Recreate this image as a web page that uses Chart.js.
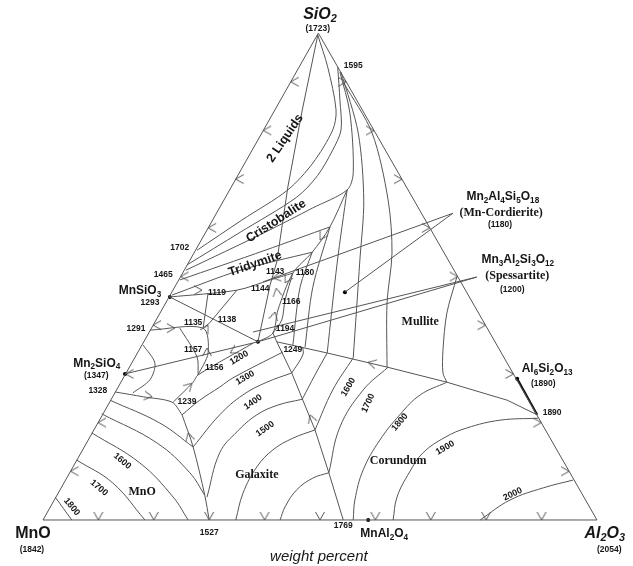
<!DOCTYPE html>
<html>
<head>
<meta charset="utf-8">
<title>MnO-Al2O3-SiO2</title>
<script src="https://cdn.jsdelivr.net/npm/chart.js@4"></script>
<style>
  html, body { margin: 0; padding: 0; background: #fff; }
  canvas { display: block; }
</style>
</head>
<body>
<canvas id="ternary" width="633" height="566"></canvas>
<script>
// every point is [position along the base in %, SiO2 wt%]  (Al2O3 = x - SiO2/2)
const triangle = [[0,0],[100,0],[49.7,100],[0,0]];
const tickPercents = [10,20,30,40,50,60,70,80,90];

// straight tie lines and leaders
const apexLine = [[49.6,99.6],[46.8,84.2],[44.2,68.4],[42.2,53],[41,48.3],[38.8,36.6]];
const longBoundary = [[42.2,36.6],[51.3,34.3],[62.1,31.4],[72.9,28.3],[83.8,24.6],[89.2,21.6]];
const downBoundary = [[42.2,36.6],[44.9,30.2],[49.1,18.5],[51.6,9.7],[54.2,0]];
const silicateJoin = [[22.9,45.8],[38.8,36.6]];
const leaderOlivine = [[14.8,30],[38.8,36.6]];
const leaderSpess1 = [[38.8,36.6],[78.3,49.9]];
const leaderSpess2 = [[37.9,38.6],[78.3,49.9]];
const leaderCord1 = [[74,63],[39.7,48.9]];
const leaderCord2 = [[74,63],[54.5,46.8]];
const shortA = [[29.8,46.6],[28.9,39.4]];
const shortB = [[35,47.2],[30.1,40.5],[28.9,39.4]];
const shortC = [[41.5,38.4],[42.2,36.6]];
const straightLines = [apexLine,longBoundary,downBoundary,silicateJoin,leaderOlivine,leaderSpess1,leaderSpess2,leaderCord1,leaderCord2,shortA,shortB,shortC];

// curved boundaries
const curveB = [[49.6,99.6],[51.4,93],[52.9,84.2],[52.3,80.1],[48.7,73.3],[44.2,67.8],[35.9,61.6],[27.8,55.4]];
const curveC = [[53.2,93],[53.6,86.2],[53.8,80.1],[52.3,76],[49.6,70.8],[45.8,66.3],[35.6,59.1],[26,52.4]];
const curveD = [[53.6,92],[55.4,83.6],[56,71.3],[54.9,67.8],[48.7,64.1],[40.1,59.1],[25.8,51.3]];
const curveE = [[53.8,92],[56.9,79.5],[57.9,65.7],[57.2,53.4],[56,33.3]];
const curveF = [[54.2,89.9],[59.4,79.5],[62.3,65.7],[63,54.8],[62.1,44.6],[62.1,31.4]];
const mulliteSide = [[74.7,49.9],[72.9,42.5],[72.2,34.9],[72.2,30.2],[72.9,28.3]];
const ridge1 = [[54.9,67.8],[51.8,60.2],[48.6,55],[45.1,50.7],[42.4,43.1],[41.5,38.4],[38.8,36.6]];
const ridge2 = [[45.1,50.7],[43.7,45.2],[43.1,41.1],[41.5,38.4]];
const ridge3 = [[48.6,55],[46.4,47.8],[45.1,35.9]];
const ridge4 = [[51.8,60.2],[48.7,47.8],[47.3,35.5]];
const ridge5 = [[54.9,67.8],[53.1,52.8],[51.3,34.3]];
const tieUpper = [[51.8,60.2],[40.1,55.4],[24.7,49.3]];
const tieLower = [[48.6,55],[35.6,51.3],[23.3,46.2]];
const fromRhodonite = [[22.9,45.8],[35,47.2],[41,49.3],[45.1,50.7]];
const pocketA = [[19.3,39],[28.9,39.4],[29.8,34.3],[28,29.8]];
const pocketB = [[24.7,39.4],[27.8,33.5],[28,29.8]];
const line1200 = [[23.5,24.2],[27.1,28.3],[28,29.8],[37.9,36.3]];
const olivineLoop = [[18.1,35.9],[20.2,32.2],[19.3,28.8],[16.2,26.1]];
const galaxiteSide = [[25.1,21.6],[27.1,15],[29.2,5.1],[30,0]];
const mno1328 = [[13,26.3],[18.1,25.3],[23.3,24.2],[25.1,21.6]];
const curvedLines = [curveB,curveC,curveD,curveE,curveF,mulliteSide,ridge1,ridge2,ridge3,ridge4,ridge5,tieUpper,tieLower,fromRhodonite,pocketA,pocketB,line1200,olivineLoop,galaxiteSide,mno1328];

// isotherms
const iso1300 = [[25.1,21.6],[28.3,24.6],[31.9,27.3],[34.3,29.2],[43.3,34.5]];
const iso1400 = [[44.9,30.2],[40.4,28.3],[36.1,25.7],[31.9,21.6],[27.1,15]];
const iso1500 = [[46.8,24.8],[42.4,23.6],[38.6,21.6],[35,18.1],[31.9,13.8],[29.6,4.7]];
const iso1600g = [[49.1,18.5],[45.1,16.8],[41.5,14.4],[38.6,10.9],[36.1,5.5],[34.8,0]];
const iso1700g = [[51.6,9.7],[48.7,8.6],[45.8,6.2],[43.7,2.7],[42.8,0]];
const riseA = [[44.9,30.2],[46.9,33.9],[46.9,35.5]];
const riseB = [[46.8,24.8],[49.1,29.8],[51.3,34.3]];
const riseC = [[49.1,18.5],[52.3,26.7],[56,33.3]];
const riseD = [[51.6,9.7],[53.6,19.1],[57.8,26.7],[62.3,31.4]];
const iso1800 = [[56,0],[56.3,4.1],[57.8,10.3],[60.8,16.4],[64.4,21.6],[68.1,25.7],[72.9,28.3]];
const iso1900 = [[63.2,0],[63.9,4.7],[66.2,9.9],[68.6,13.8],[72.6,17],[76.5,18.9],[82.5,20.5],[89.4,20.9]];
const iso2000 = [[78.9,0],[84.3,4.1],[90.3,6.6],[95.7,8.2]];
const mno1800 = [[2.2,4.7],[5.2,0]];
const mno1700 = [[6.1,12.3],[12.6,7.6],[18.4,0]];
const mno1600 = [[8.8,17.9],[17.5,11.7],[23.5,4.7],[26.2,0]];
const mno1500 = [[10.6,21.8],[20.6,15.8],[26.5,9.7],[29.2,5.1]];
const mno1400 = [[12.1,24.6],[21.1,19.9],[27.1,15]];
const isotherms = [iso1300,iso1400,iso1500,iso1600g,iso1700g,riseA,riseB,riseC,riseD,iso1800,iso1900,iso2000,mno1800,mno1700,mno1600,mno1500,mno1400];

const mulliteJoin = [[85.6,29],[89.2,21.6]];
const compounds = [[22.9,45.8],[14.8,30],[38.8,36.6],[54.5,46.8],[85.6,29],[58.7,0]];

// arrows on the boundaries and their direction (deg clockwise, 0 = right)
const arrowPoints = [[28.7,47.2],[41.5,49.7],[50,57.5],[43.7,48.7],[42.1,47.6],[29.8,40],[23.8,39.4],[29.6,35.3],[26.9,28.1],[41.9,42.7],[33.8,34.3],[19.7,25.3],[26.2,17.9],[48.2,21.6],[58.7,32.4]];
const arrowAngles = [0,170,120,120,-100,-60,0,-90,-45,-75,150,10,-105,-110,195];

// text, x, SiO2, font key, rotation
const labels = [
  ['SiO_2',50,103.9,'cornerItalic',0],['(1723)',49.6,101,'num',0],['1595',56,93.4,'num',0],
  ['2 Liquids',43.7,78.4,'phase',-56],['Cristobalite',42.1,61.4,'phase',-33],['Tridymite',38.3,52.6,'phase',-19],
  ['1702',24.7,55.9,'num',0],['1465',21.7,50.3,'num',0],['MnSiO_3',17.5,47,'compound',0],['1293',19.3,44.6,'num',0],
  ['1119',31.4,46.6,'num',0],['1143',41.9,51.1,'num',0],['1180',47.3,50.9,'num',0],['1144',39.2,47.6,'num',0],
  ['1166',44.8,44.8,'num',0],['1138',33.2,41.1,'num',0],['1135',27.1,40.5,'num',0],['1194',43.7,39.4,'num',0],
  ['1291',16.8,39.4,'num',0],['1157',27.1,34.9,'num',0],['1156',30.9,31.2,'num',0],['1249',45.1,34.9,'num',0],
  ['1200',35.4,33.3,'iso',-30],['1300',36.5,29.2,'iso',-30],['1400',37.9,24.2,'iso',-35],['1500',40.1,18.7,'iso',-35],
  ['1600',55.1,27.3,'iso',-60],['1700',58.7,24,'iso',-65],['1800',64.4,20.1,'iso',-50],['1900',72.6,14.8,'iso',-30],
  ['2000',84.8,5.3,'iso',-25],['1600',14.3,12.1,'iso',40],['1700',10.1,6.6,'iso',40],['1800',5.2,2.7,'iso',50],
  ['1328',9.9,26.5,'num',0],['1239',26,24.4,'num',0],['1527',30,-2.5,'num',0],['1769',54.2,-1.2,'num',0],['1890',91.9,22,'num',0],
  ['MnO',17.9,5.7,'field',0],['Galaxite',38.6,9.2,'field',0],['Corundum',64.1,12.1,'field',0],['Mullite',68.1,40.7,'field',0],
  ['MnO',-1.8,-2.7,'corner',0],['(1842)',-2,-6,'num',0],['Al_2O_3',101.4,-2.7,'cornerItalic',0],['(2054)',102.2,-6,'num',0],
  ['MnAl_2O_4',61.6,-2.9,'compound',0],['weight percent',49.8,-7.6,'axis',0],
  ['Al_6Si_2O_13',91,31,'compound',0],['(1890)',90.3,28.1,'num',0],['Mn_2SiO_4',9.7,32.2,'compound',0],['(1347)',9.6,29.6,'num',0],
  ['Mn_2Al_4Si_5O_18',83,66.3,'compound',0],['(Mn-Cordierite)',82.7,63,'field',0],['(1180)',82.5,60.6,'num',0],
  ['Mn_3Al_2Si_3O_12',85.7,53.4,'compound',0],['(Spessartite)',85.6,50.1,'field',0],['(1200)',84.7,47.4,'num',0]
];

const sans = '"Liberation Sans", Arial, sans-serif';
const serif = '"Liberation Serif", "Times New Roman", serif';
const fonts = {
  num: ['bold', 8.5, sans],
  iso: ['bold', 9, sans],
  phase: ['bold', 12.5, sans],
  compound: ['bold', 12, sans],
  field: ['bold', 12, serif],
  corner: ['bold', 16, sans],
  cornerItalic: ['italic bold', 16, sans],
  axis: ['italic', 15, sans]
};
const ink = '#555555';

// chevron with its tip in the middle of the image, pointing right
const chevron = document.createElement('canvas');
chevron.width = 22; chevron.height = 22;
const cc = chevron.getContext('2d');
cc.strokeStyle = ink; cc.lineWidth = 1;
cc.beginPath(); cc.moveTo(3,6.5); cc.lineTo(11,11); cc.lineTo(3,15.5); cc.stroke();

const lineSet = (pts, tension, width, color) => ({
  data: pts, showLine: true, tension: tension, borderColor: color || ink, borderWidth: width || 1, pointRadius: 0
});
const datasets = [];
datasets.push(lineSet(triangle, 0));
straightLines.forEach(l => datasets.push(lineSet(l, 0)));
curvedLines.forEach(l => datasets.push(lineSet(l, 0.3)));
isotherms.forEach(l => datasets.push(lineSet(l, 0.4)));
datasets.push(lineSet(mulliteJoin, 0, 2.2, '#111'));
datasets.push({ data: compounds, showLine: false, pointRadius: 2, pointBackgroundColor: '#000', pointBorderWidth: 0 });

// edge tick arrows, one every 10 %
const leftTicks = tickPercents.map(s => [s * 0.497, s]);
const rightTicks = tickPercents.map(s => [100 - s * 0.503, s]);
const baseTicks = tickPercents.map(p => [p, 0]);
[[leftTicks,180],[rightTicks,0],[baseTicks,90]].forEach(t => datasets.push({
  data: t[0], showLine: false, pointStyle: chevron, pointRotation: t[1]
}));
datasets.push({ data: arrowPoints, showLine: false, pointStyle: chevron, pointRotation: arrowAngles });

const labelPlugin = {
  id: 'labelPlugin',
  afterDatasetsDraw(chart) {
    const ctx = chart.ctx;
    labels.forEach(l => {
      const f = fonts[l[3]];
      const big = f[0] + ' ' + f[1] + 'px ' + f[2];
      const small = f[0] + ' ' + (f[1] * 0.68).toFixed(1) + 'px ' + f[2];
      const parts = l[0].split(/_(\d+)/);
      let total = 0;
      parts.forEach((p, i) => { ctx.font = i % 2 ? small : big; total += ctx.measureText(p).width; });
      ctx.save();
      ctx.translate(chart.scales.x.getPixelForValue(l[1]), chart.scales.y.getPixelForValue(l[2]));
      ctx.rotate(l[4] * Math.PI / 180);
      ctx.fillStyle = '#161616';
      ctx.textBaseline = 'middle';
      ctx.textAlign = 'left';
      let cx = -total / 2;
      parts.forEach((p, i) => {
        if (!p) return;
        ctx.font = i % 2 ? small : big;
        ctx.fillText(p, cx, i % 2 ? f[1] * 0.28 : 0);
        cx += ctx.measureText(p).width;
      });
      ctx.restore();
    });
  }
};

new Chart(document.getElementById('ternary'), {
  type: 'scatter',
  data: { datasets: datasets },
  options: {
    responsive: false,
    animation: false,
    layout: { padding: 0, autoPadding: false },
    plugins: { legend: { display: false }, tooltip: { enabled: false } },
    scales: {
      x: { type: 'linear', display: false, min: -7.76, max: 106.5 },
      y: { type: 'linear', display: false, min: -9.45, max: 106.8 }
    }
  },
  plugins: [labelPlugin]
});
</script>
</body>
</html>
